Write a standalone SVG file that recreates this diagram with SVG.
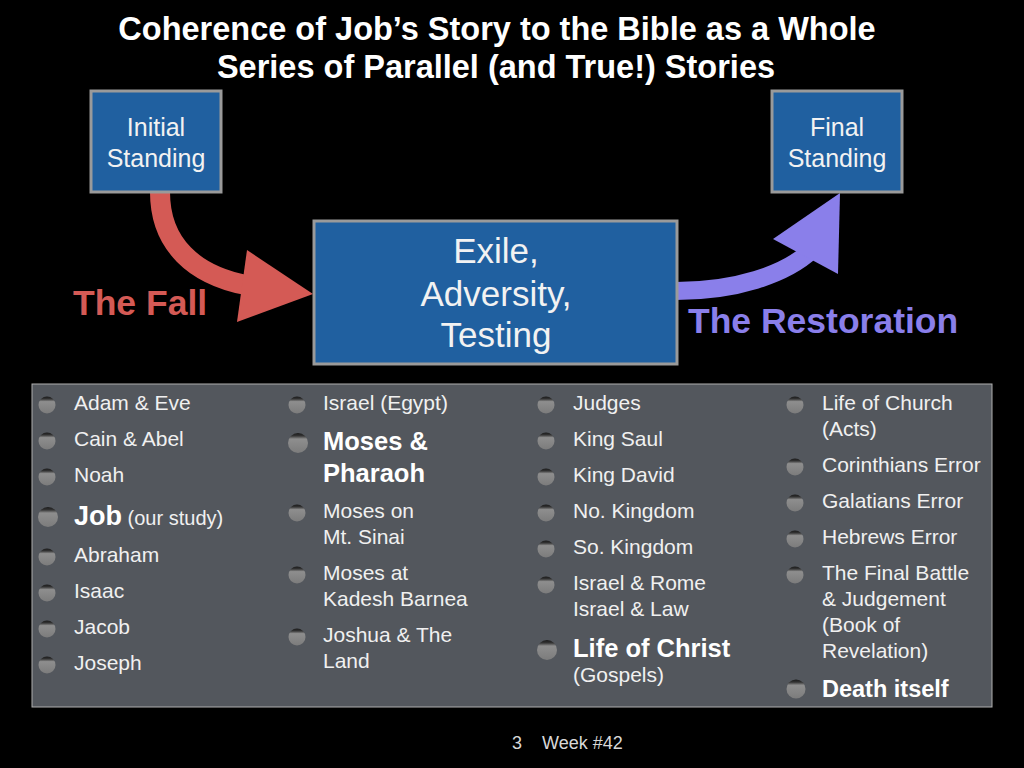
<svg xmlns="http://www.w3.org/2000/svg" width="1024" height="768" viewBox="0 0 1024 768">
<defs>
<style>
.title{font-family:"Liberation Sans",Arial,sans-serif;font-weight:bold;font-size:32.5px;fill:#fff;text-anchor:middle}
.box{fill:#2060a0;stroke:#9a9a9a;stroke-width:3}
.bt{font-family:"Liberation Sans",Arial,sans-serif;fill:#f2f2f2;text-anchor:middle}
.li{font-family:"Liberation Sans",Arial,sans-serif;font-size:21px;fill:#f0f0f0}
.lb{font-family:"Liberation Sans",Arial,sans-serif;font-size:25.5px;font-weight:bold;fill:#fff}
.lab{font-family:"Liberation Sans",Arial,sans-serif;font-size:35.5px;font-weight:bold}
.foot{font-family:"Liberation Sans",Arial,sans-serif;font-size:18px;fill:#d8d8d8}
</style>
<linearGradient id="bul" x1="0" y1="0" x2="0" y2="1">
<stop offset="0" stop-color="#1a1a1a"/>
<stop offset="0.14" stop-color="#333"/>
<stop offset="0.3" stop-color="#8e8e8e"/>
<stop offset="1" stop-color="#7c7c7c"/>
</linearGradient>
</defs>
<rect width="1024" height="768" fill="#000"/>
<g id="title">
<text class="title" x="497" y="40">Coherence of Job’s Story to the Bible as a Whole</text>
<text class="title" x="496" y="78">Series of Parallel (and True!) Stories</text>
</g>
<g id="connectors">
<path d="M160,192 C160,245 195,275 246,285" fill="none" stroke="#d45a55" stroke-width="20"/>
<polygon points="247,250 313,294 237,322" fill="#d45a55"/>
<path d="M676,291 C735,291 785,275 812,250" fill="none" stroke="#8a7fea" stroke-width="18"/>
<polygon points="840,193 838,274 773,239" fill="#8a7fea"/>
<text class="lab" x="73" y="315" fill="#d45a55">The Fall</text>
<text class="lab" x="688" y="333" fill="#8a7fea">The Restoration</text>
</g>
<g id="initial">
<rect class="box" x="91" y="91" width="130" height="101"/>
<text class="bt" x="156" y="136" font-size="25">Initial</text>
<text class="bt" x="156" y="167" font-size="25">Standing</text>
</g>
<g id="final">
<rect class="box" x="772" y="91" width="130" height="101"/>
<text class="bt" x="837" y="136" font-size="25">Final</text>
<text class="bt" x="837" y="167" font-size="25">Standing</text>
</g>
<g id="exile">
<rect class="box" x="314" y="221" width="363" height="143"/>
<text class="bt" x="496" y="263" font-size="35">Exile,</text>
<text class="bt" x="496" y="306" font-size="35">Adversity,</text>
<text class="bt" x="496" y="347" font-size="35">Testing</text>
</g>
<g id="list">
<rect x="32" y="384" width="960" height="323" fill="#53575d" stroke="#b0b0b0" stroke-width="1"/>
<g fill="url(#bul)">
<circle cx="47" cy="405" r="8.5"/><circle cx="47" cy="441" r="8.5"/><circle cx="47" cy="477" r="8.5"/><circle cx="48" cy="517" r="10"/><circle cx="47" cy="557" r="8.5"/><circle cx="47" cy="593" r="8.5"/><circle cx="47" cy="629" r="8.5"/><circle cx="47" cy="665" r="8.5"/>
<circle cx="297" cy="405" r="8.5"/><circle cx="298" cy="443" r="10"/><circle cx="297" cy="513" r="8.5"/><circle cx="297" cy="575" r="8.5"/><circle cx="297" cy="637" r="8.5"/>
<circle cx="546" cy="405" r="8.5"/><circle cx="546" cy="441" r="8.5"/><circle cx="546" cy="477" r="8.5"/><circle cx="546" cy="513" r="8.5"/><circle cx="546" cy="549" r="8.5"/><circle cx="546" cy="585" r="8.5"/><circle cx="547" cy="650" r="10"/>
<circle cx="795" cy="405" r="8.5"/><circle cx="795" cy="467" r="8.5"/><circle cx="795" cy="503" r="8.5"/><circle cx="795" cy="539" r="8.5"/><circle cx="795" cy="575" r="8.5"/><circle cx="796" cy="689" r="9.5"/>
</g>
<text class="li" x="74" y="410">Adam &amp; Eve</text>
<text class="li" x="74" y="446">Cain &amp; Abel</text>
<text class="li" x="74" y="482">Noah</text>
<text x="74" y="525"><tspan class="lb" style="font-size:27px">Job</tspan><tspan class="li" style="font-size:20px"> (our study)</tspan></text>
<text class="li" x="74" y="562">Abraham</text>
<text class="li" x="74" y="598">Isaac</text>
<text class="li" x="74" y="634">Jacob</text>
<text class="li" x="74" y="670">Joseph</text>

<text class="li" x="323" y="410">Israel (Egypt)</text>
<text class="lb" x="323" y="450">Moses &amp;</text>
<text class="lb" x="323" y="482">Pharaoh</text>
<text class="li" x="323" y="518">Moses on</text>
<text class="li" x="323" y="544">Mt. Sinai</text>
<text class="li" x="323" y="580">Moses at</text>
<text class="li" x="323" y="606">Kadesh Barnea</text>
<text class="li" x="323" y="642">Joshua &amp; The</text>
<text class="li" x="323" y="668">Land</text>

<text class="li" x="573" y="410">Judges</text>
<text class="li" x="573" y="446">King Saul</text>
<text class="li" x="573" y="482">King David</text>
<text class="li" x="573" y="518">No. Kingdom</text>
<text class="li" x="573" y="554">So. Kingdom</text>
<text class="li" x="573" y="590">Israel &amp; Rome</text>
<text class="li" x="573" y="616">Israel &amp; Law</text>
<text class="lb" x="573" y="657">Life of Christ</text>
<text class="li" x="573" y="682">(Gospels)</text>

<text class="li" x="822" y="410">Life of Church</text>
<text class="li" x="822" y="436">(Acts)</text>
<text class="li" x="822" y="472">Corinthians Error</text>
<text class="li" x="822" y="508">Galatians Error</text>
<text class="li" x="822" y="544">Hebrews Error</text>
<text class="li" x="822" y="580">The Final Battle</text>
<text class="li" x="822" y="606">&amp; Judgement</text>
<text class="li" x="822" y="632">(Book of</text>
<text class="li" x="822" y="658">Revelation)</text>
<text class="lb" x="822" y="697" style="font-size:23.5px">Death itself</text>
</g>
<g id="footer">
<text class="foot" x="512" y="749">3</text>
<text class="foot" x="542" y="749">Week #42</text>
</g>
</svg>
